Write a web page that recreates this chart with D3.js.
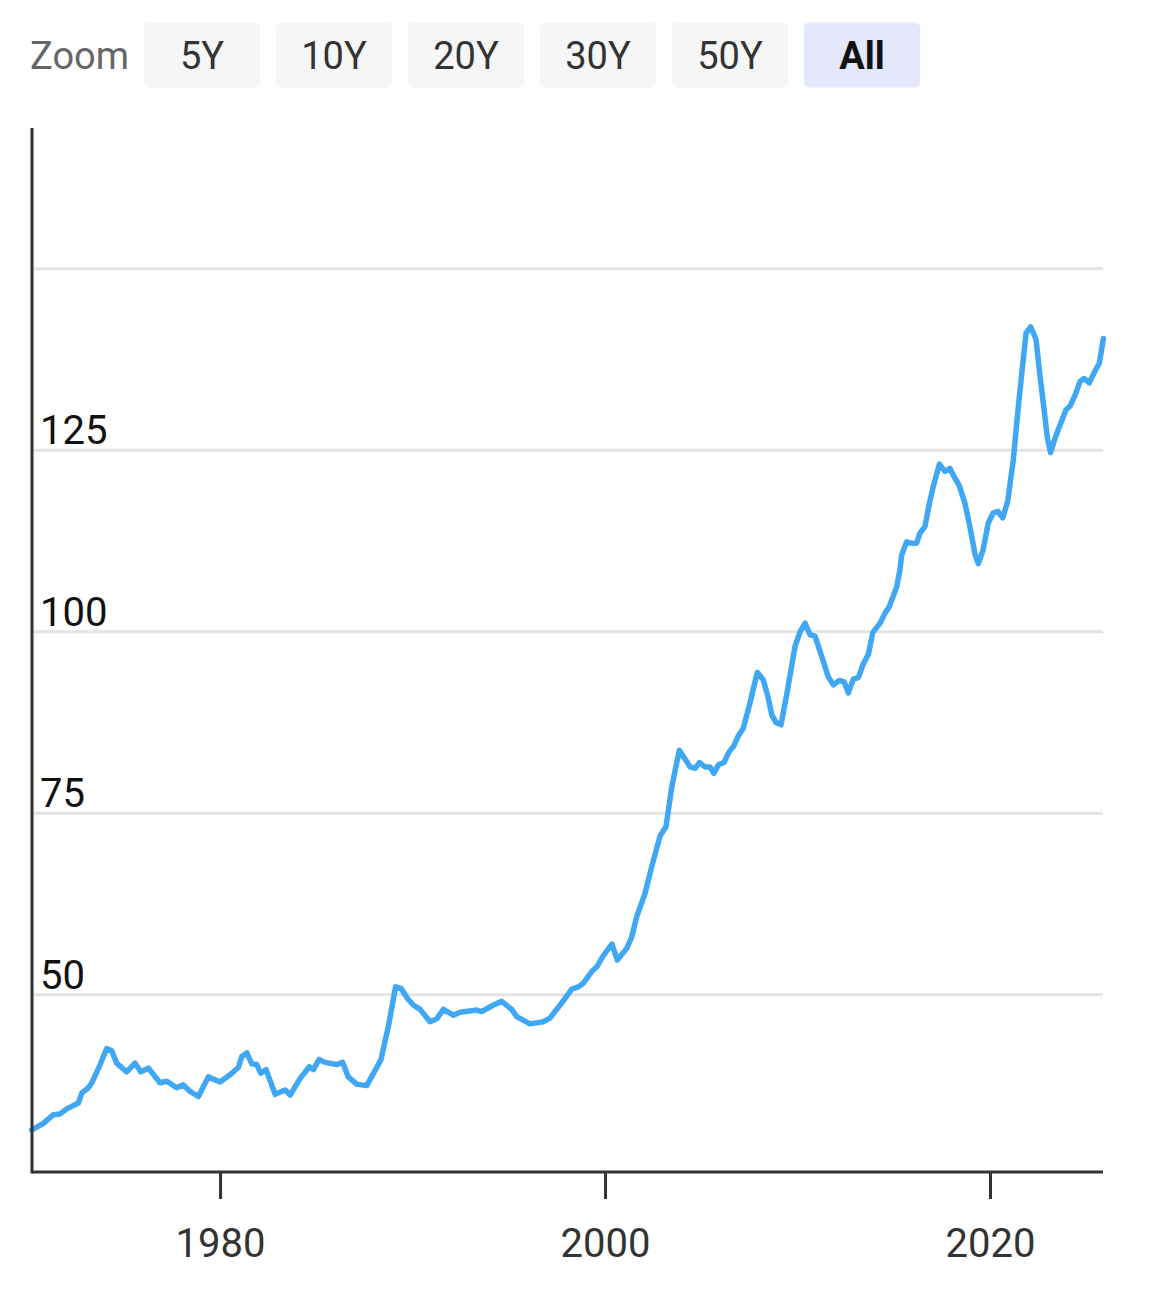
<!DOCTYPE html>
<html>
<head>
<meta charset="utf-8">
<script src="https://cdn.jsdelivr.net/npm/d3@7"></script>
<style>
  body { margin: 0; background: #fff; }
  svg { display: block; font-family: Roboto, "Noto Sans", sans-serif; }
</style>
</head>
<body>
<div id="chart"></div>
<script>
// zoom buttons across the top
let zoomLabels = ["5Y", "10Y", "20Y", "30Y", "50Y", "All"]
let activeZoom = "All"

// axis ticks
let xTicks = [1980, 2000, 2020]
let gridValues = [50, 75, 100, 125, 150]
let yTickLabels = [50, 75, 100, 125]

// series (decimal year, value)
let years = [
  1970.22, 1970.82, 1971.34, 1971.69, 1972.04, 1972.64, 1972.82, 1973.16, 1973.34, 1973.77,
  1974.11, 1974.37, 1974.63, 1975.15, 1975.58, 1975.88, 1976.28, 1976.88, 1977.23, 1977.75,
  1978.09, 1978.44, 1978.87, 1979.39, 1980.00, 1980.52, 1980.95, 1981.13, 1981.39, 1981.65,
  1981.91, 1982.11, 1982.39, 1982.86, 1983.38, 1983.64, 1984.16, 1984.64, 1984.85, 1985.14,
  1985.45, 1986.06, 1986.37, 1986.66, 1987.10, 1987.62, 1988.35, 1988.74, 1989.12, 1989.40,
  1989.74, 1990.04, 1990.39, 1990.91, 1991.26, 1991.60, 1992.12, 1992.47, 1993.34, 1993.59,
  1994.20, 1994.63, 1995.15, 1995.41, 1996.10, 1996.79, 1997.14, 1997.75, 1998.27, 1998.61,
  1998.87, 1999.31, 1999.58, 1999.91, 2000.36, 2000.64, 2001.13, 2001.39, 2001.65, 2002.08,
  2002.43, 2002.86, 2003.17, 2003.47, 2003.86, 2004.42, 2004.68, 2004.90, 2005.19, 2005.45,
  2005.65, 2005.89, 2006.18, 2006.43, 2006.69, 2006.93, 2007.18, 2007.53, 2007.91, 2008.22,
  2008.48, 2008.66, 2008.88, 2009.14, 2009.47, 2009.87, 2010.13, 2010.39, 2010.65, 2010.91,
  2011.26, 2011.60, 2011.86, 2012.17, 2012.42, 2012.64, 2012.90, 2013.16, 2013.42, 2013.68,
  2013.91, 2014.29, 2014.55, 2014.77, 2015.15, 2015.32, 2015.41, 2015.67, 2015.93, 2016.19,
  2016.36, 2016.62, 2016.85, 2017.05, 2017.37, 2017.66, 2017.92, 2018.09, 2018.41, 2018.70,
  2018.96, 2019.22, 2019.39, 2019.64, 2019.91, 2020.17, 2020.41, 2020.66, 2020.92, 2021.21,
  2021.47, 2021.65, 2021.87, 2022.11, 2022.39, 2022.60, 2022.81, 2022.98, 2023.15, 2023.38,
  2023.64, 2023.95, 2024.16, 2024.42, 2024.68, 2024.88, 2025.16, 2025.45, 2025.68, 2025.89
]
let values = [
  31.4, 32.3, 33.5, 33.6, 34.3, 35.1, 36.5, 37.2, 37.9, 40.4,
  42.6, 42.3, 40.6, 39.4, 40.6, 39.4, 39.9, 37.9, 38.1, 37.2,
  37.6, 36.7, 36.0, 38.7, 38.0, 39.0, 40.0, 41.5, 42.0, 40.5,
  40.4, 39.2, 39.7, 36.3, 36.9, 36.2, 38.5, 40.1, 39.7, 41.1,
  40.7, 40.4, 40.7, 38.7, 37.7, 37.5, 41.0, 45.6, 51.1, 50.9,
  49.5, 48.6, 48.0, 46.3, 46.7, 48.0, 47.2, 47.6, 47.9, 47.7,
  48.6, 49.1, 48.0, 47.0, 46.0, 46.3, 46.8, 48.9, 50.8, 51.1,
  51.6, 53.2, 53.9, 55.4, 57.0, 54.8, 56.4, 58.0, 60.8, 64.0,
  67.7, 71.9, 73.2, 78.7, 83.7, 81.4, 81.2, 82.0, 81.4, 81.4,
  80.5, 81.7, 82.0, 83.4, 84.3, 85.7, 86.7, 90.2, 94.4, 93.4,
  90.9, 88.6, 87.5, 87.2, 91.8, 98.0, 100.0, 101.2, 99.6, 99.4,
  96.6, 93.8, 92.7, 93.3, 93.1, 91.6, 93.5, 93.7, 95.6, 96.9,
  99.9, 101.2, 102.6, 103.5, 106.2, 108.5, 110.6, 112.4, 112.2, 112.2,
  113.6, 114.5, 117.7, 120.0, 123.1, 122.1, 122.5, 121.6, 120.1, 117.7,
  114.4, 110.7, 109.4, 111.3, 115.0, 116.4, 116.6, 115.7, 118.0, 123.7,
  131.0, 135.6, 141.1, 142.0, 140.3, 135.2, 130.6, 126.7, 124.7, 126.7,
  128.5, 130.6, 131.1, 132.6, 134.5, 134.9, 134.3, 135.9, 137.0, 140.4
]

let data = years.map((y, i) => ({ year: y, value: values[i] }))

let width = 1152
let height = 1292

// plot area edges
let plotLeft = 32
let plotRight = 1103
let plotTop = 128
let plotBottom = 1172

let svg = d3.select("#chart")
    .append("svg")
    .attr("width", width)
    .attr("height", height)

// zoom bar
let zoomBar = svg.append("g").attr("class", "zoomBar")

zoomBar.append("text")
    .attr("x", 30)
    .attr("y", 69)
    .attr("font-size", 38)
    .attr("fill", "#666")
    .text("Zoom")

let btn = zoomBar.selectAll("g.btn")
    .data(zoomLabels)
    .enter()
    .append("g")
    .attr("class", "btn")
    .attr("transform", (d, i) => `translate(${144 + i * 132}, 22.5)`)

btn.append("rect")
    .attr("width", 116)
    .attr("height", 65)
    .attr("rx", 5)
    .attr("fill", d => d === activeZoom ? "#e5e7fb" : "#f6f6f6")

btn.append("text")
    .attr("x", 58)
    .attr("y", 46.5)
    .attr("text-anchor", "middle")
    .attr("font-size", 38)
    .attr("font-weight", d => d === activeZoom ? "bold" : "normal")
    .attr("fill", d => d === activeZoom ? "#111" : "#333")
    .text(d => d)

// scales
let xScale = d3.scaleLinear()
    .domain([1970.23, 2025.87])
    .range([plotLeft, plotRight])

let yScale = d3.scaleLinear()
    .domain([25.6, 169.4])
    .range([plotBottom, plotTop])

// gridlines
svg.append("g")
    .attr("class", "grid")
    .selectAll("line")
    .data(gridValues)
    .enter()
    .append("line")
    .attr("x1", plotLeft)
    .attr("x2", plotRight)
    .attr("y1", d => yScale(d))
    .attr("y2", d => yScale(d))
    .attr("stroke", "#e3e3e3")
    .attr("stroke-width", 3)

// y labels sit above their gridline
svg.append("g")
    .attr("class", "yLabels")
    .selectAll("text")
    .data(yTickLabels)
    .enter()
    .append("text")
    .attr("x", 40)
    .attr("y", d => yScale(d) - 6)
    .attr("font-size", 40)
    .attr("fill", "#111")
    .text(d => d)

// the series
let line = d3.line()
    .x(d => xScale(d.year))
    .y(d => yScale(d.value))

svg.append("path")
    .datum(data)
    .attr("d", line)
    .attr("fill", "none")
    .attr("stroke", "#3fa7f3")
    .attr("stroke-width", 5.5)
    .attr("stroke-linejoin", "round")
    .attr("stroke-linecap", "round")

// x axis
let xAxis = d3.axisBottom(xScale)
    .tickValues(xTicks)
    .tickFormat(d3.format("d"))
    .tickSize(27)
    .tickPadding(30)

let xAxisG = svg.append("g")
    .attr("class", "xAxis")
    .attr("transform", `translate(0, ${plotBottom})`)
    .call(xAxis)

xAxisG.select(".domain")
    .attr("d", `M${plotLeft},0H${plotRight}`)
    .attr("stroke", "#333")
    .attr("stroke-width", 3)

xAxisG.selectAll(".tick line")
    .attr("stroke", "#333")
    .attr("stroke-width", 3)

xAxisG.selectAll(".tick text")
    .attr("font-size", 40)
    .attr("font-family", "Roboto, sans-serif")
    .attr("fill", "#333")

// y axis line (no ticks)
svg.append("line")
    .attr("x1", plotLeft)
    .attr("x2", plotLeft)
    .attr("y1", plotTop)
    .attr("y2", plotBottom + 1.5)
    .attr("stroke", "#333")
    .attr("stroke-width", 3)
</script>
</body>
</html>
